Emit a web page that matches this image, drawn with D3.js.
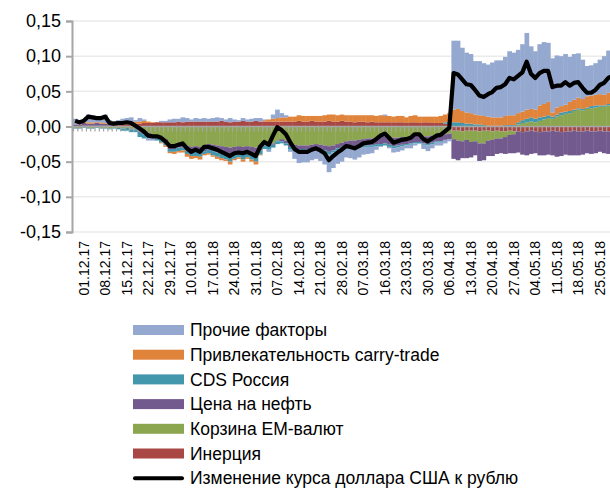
<!DOCTYPE html>
<html>
<head>
<meta charset="utf-8">
<script src="https://cdn.jsdelivr.net/npm/d3@7"></script>
<style>
  body { margin: 0; background: #fff; }
  text { font-family: "Liberation Sans", Arial, sans-serif; fill: #000; }
</style>
</head>
<body>
<div id="app"></div>
<script>
// Decomposition of USD/RUB change, business days 29.11.17 .. 31.05.18.

var tickLabels = ["01.12.17", "08.12.17", "15.12.17", "22.12.17", "29.12.17", "10.01.18", "17.01.18",
	"24.01.18", "31.01.18", "07.02.18", "14.02.18", "21.02.18", "28.02.18", "07.03.18", "16.03.18",
	"23.03.18", "30.03.18", "06.04.18", "13.04.18", "20.04.18", "27.04.18", "04.05.18", "11.05.18",
	"18.05.18", "25.05.18"];
var firstTick = 2, tickStep = 5;	// index of the first labelled day, and spacing

var inertia = [0.000,0.000,0.001,0.001,0.001,0.001,0.001,0.001,0.001,0.001,0.002,0.002,0.003,0.003,0.004,
	0.004,0.005,0.005,0.005,0.006,0.006,0.006,0.006,0.006,0.007,0.006,0.007,0.007,0.007,0.007,0.007,
	0.007,0.007,0.007,0.008,0.007,0.006,0.007,0.007,0.008,0.007,0.007,0.008,
	0.007,0.007,0.007,0.007,0.007,
	0.007,0.007,0.007,0.007,0.008,0.007,0.007,0.008,0.007,0.007,0.007,0.008,0.007,0.007,0.008,
	0.007,0.007,0.006,0.007,0.007,0.006,0.007,0.006,0.006,0.006,
	0.006,0.006,0.006,0.006,0.005,0.006,0.006,0.005,0.006,0.006,0.005,0.005,0.005,0.004,0.003,
	-0.006,-0.006,-0.007,-0.006,-0.006,-0.006,-0.007,-0.006,-0.006,-0.007,-0.006,-0.007,
	-0.007,-0.006,-0.007,-0.007,-0.008,-0.007,-0.006,-0.007,-0.008,-0.007,-0.007,-0.006,-0.007,-0.008,
	-0.007,-0.007,-0.006,-0.007,-0.007,-0.006,-0.007,-0.007,-0.006,-0.007,-0.007,-0.006,-0.007];

var emBasket = [-0.002,-0.002,-0.001,-0.002,-0.002,-0.001,-0.002,-0.002,-0.003,-0.002,-0.002,-0.003,-0.002,-0.003,-0.003,
	-0.007,-0.009,-0.009,-0.011,-0.013,-0.015,-0.018,-0.026,-0.026,-0.025,-0.024,-0.027,-0.029,-0.028,-0.029,-0.027,
	-0.025,-0.026,-0.027,-0.028,-0.029,-0.030,-0.029,-0.028,-0.029,-0.028,-0.029,-0.030,
	-0.026,-0.022,-0.024,-0.024,-0.020,
	-0.018,-0.020,-0.024,-0.026,-0.027,-0.027,-0.027,-0.026,-0.025,-0.026,-0.027,-0.028,-0.027,-0.025,-0.023,
	-0.021,-0.020,-0.020,-0.019,-0.018,-0.017,-0.017,-0.016,-0.015,-0.014,
	-0.015,-0.016,-0.016,-0.015,-0.015,-0.014,-0.013,-0.013,-0.014,-0.014,-0.013,-0.012,-0.012,-0.011,-0.010,
	-0.012,-0.014,-0.014,-0.013,-0.016,-0.015,-0.017,-0.018,-0.014,-0.012,-0.011,-0.010,
	-0.008,-0.006,-0.004,0.003,0.005,0.006,0.007,0.006,0.008,0.010,0.012,0.011,0.014,0.016,
	0.018,0.019,0.022,0.024,0.023,0.025,0.026,0.027,0.028,0.028,0.030,0.031,0.030];

var oil = [0.003,0.003,0.004,0.003,0.003,0.004,0.003,0.003,0.002,0.002,0.002,0.001,0.000,-0.001,-0.001,
	-0.002,-0.002,-0.003,-0.003,-0.004,-0.004,-0.005,-0.006,-0.006,-0.005,-0.006,-0.007,-0.008,-0.008,-0.009,-0.008,
	-0.008,-0.009,-0.010,-0.010,-0.011,-0.012,-0.011,-0.010,-0.011,-0.010,-0.011,-0.012,
	-0.008,-0.005,-0.004,-0.002,-0.001,
	-0.003,-0.004,-0.005,-0.006,-0.006,-0.005,-0.006,-0.005,-0.005,-0.006,-0.007,-0.008,-0.007,-0.006,-0.006,
	-0.006,-0.007,-0.008,-0.008,-0.009,-0.010,-0.010,-0.009,-0.010,-0.010,
	-0.011,-0.012,-0.011,-0.011,-0.010,-0.010,-0.009,-0.009,-0.010,-0.011,-0.010,-0.009,-0.009,-0.008,-0.008,
	-0.028,-0.028,-0.024,-0.026,-0.022,-0.020,-0.025,-0.024,-0.022,-0.023,-0.022,-0.021,
	-0.024,-0.026,-0.027,-0.030,-0.032,-0.034,-0.033,-0.031,-0.033,-0.034,-0.033,-0.035,-0.036,-0.034,
	-0.033,-0.034,-0.035,-0.034,-0.033,-0.032,-0.032,-0.031,-0.030,-0.031,-0.032,-0.032,-0.031];

var cds = [-0.001,-0.001,-0.001,-0.001,-0.001,-0.001,-0.001,-0.001,-0.001,-0.001,-0.002,-0.003,-0.004,-0.004,-0.004,
	-0.006,-0.006,-0.003,-0.003,-0.003,-0.004,-0.004,-0.004,-0.004,-0.005,-0.004,-0.005,-0.005,-0.006,-0.005,-0.004,
	-0.005,-0.006,-0.006,-0.007,-0.007,-0.008,-0.006,-0.006,-0.007,-0.006,-0.007,-0.008,
	-0.006,-0.005,-0.005,-0.004,-0.004,
	-0.003,-0.003,-0.004,-0.004,-0.003,-0.003,-0.004,-0.003,-0.003,-0.004,-0.004,-0.004,-0.003,-0.003,-0.003,
	-0.002,-0.002,-0.003,-0.003,-0.003,-0.002,-0.002,-0.003,-0.003,-0.003,
	-0.003,-0.003,-0.003,-0.002,-0.002,-0.002,-0.002,-0.002,-0.002,-0.002,-0.002,-0.002,-0.001,0.002,0.004,
	0.006,0.006,0.005,0.004,0.004,0.003,0.003,0.002,0.001,0.001,0.001,0.001,
	0.002,0.002,0.002,0.003,0.004,0.005,0.006,0.005,0.005,0.004,0.004,0.003,0.003,0.004,
	0.003,0.003,0.002,0.002,0.002,0.002,0.003,0.003,0.002,0.002,0.002,0.002,0.002];

var carry = [0.000,0.001,0.001,0.002,0.002,0.001,0.002,0.001,0.001,0.001,0.001,0.001,0.002,0.002,0.003,
	0.003,0.003,0.002,0.001,0.000,-0.001,-0.002,-0.002,-0.003,-0.002,-0.003,-0.004,-0.004,-0.003,-0.004,-0.002,
	-0.002,-0.002,-0.003,-0.003,-0.002,-0.004,-0.002,-0.002,-0.003,-0.002,-0.003,-0.004,
	-0.001,0.002,0.003,0.004,0.005,
	0.006,0.006,0.007,0.007,0.008,0.008,0.008,0.007,0.008,0.008,0.009,0.009,0.010,0.009,0.009,
	0.009,0.009,0.010,0.009,0.009,0.010,0.009,0.009,0.010,0.009,
	0.009,0.008,0.009,0.009,0.008,0.009,0.010,0.009,0.008,0.008,0.009,0.009,0.010,0.011,0.012,
	0.018,0.019,0.017,0.016,0.015,0.014,0.013,0.013,0.013,0.012,0.012,0.012,
	0.013,0.014,0.014,0.013,0.012,0.013,0.012,0.013,0.017,0.018,0.019,0.006,0.010,0.009,
	0.010,0.013,0.014,0.015,0.014,0.016,0.015,0.015,0.016,0.015,0.016,0.017,0.016];

var other = [0.008,0.005,0.004,0.011,0.010,0.008,0.009,0.012,0.005,0.003,0.004,0.007,0.007,0.008,0.002,
	0.005,0.002,-0.005,-0.003,0.000,0.002,0.002,0.004,0.005,0.004,0.007,0.005,0.003,0.005,0.004,0.005,
	0.004,0.005,0.006,0.004,0.003,0.006,0.003,0.002,0.004,0.003,0.004,0.004,
	0.005,0.001,-0.003,0.006,0.012,
	0.006,0.003,-0.003,-0.010,-0.016,-0.016,-0.014,-0.014,-0.013,-0.013,-0.016,-0.025,-0.022,-0.019,-0.018,
	-0.015,-0.016,-0.016,-0.014,-0.010,-0.010,-0.009,-0.005,-0.001,0.002,
	-0.002,-0.006,-0.006,-0.006,-0.004,-0.005,-0.003,-0.001,-0.006,-0.008,-0.006,-0.004,-0.005,-0.005,-0.003,
	0.098,0.097,0.090,0.085,0.084,0.076,0.077,0.075,0.074,0.078,0.081,0.081,
	0.084,0.091,0.089,0.090,0.096,0.109,0.089,0.083,0.087,0.088,0.084,0.077,0.074,0.071,
	0.072,0.064,0.065,0.063,0.056,0.043,0.043,0.045,0.049,0.055,0.060,0.060,0.060];

var usdRub = [0.008,0.006,0.008,0.014,0.013,0.012,0.012,0.014,0.005,0.004,0.005,0.005,0.006,0.005,0.001,
	-0.003,-0.007,-0.013,-0.014,-0.014,-0.016,-0.021,-0.028,-0.028,-0.026,-0.024,-0.031,-0.036,-0.033,-0.036,-0.029,
	-0.029,-0.031,-0.033,-0.036,-0.039,-0.042,-0.038,-0.037,-0.038,-0.036,-0.039,-0.042,
	-0.029,-0.022,-0.026,-0.013,-0.001,
	-0.005,-0.011,-0.022,-0.032,-0.036,-0.036,-0.036,-0.033,-0.031,-0.034,-0.038,-0.048,-0.042,-0.037,-0.033,
	-0.028,-0.029,-0.031,-0.028,-0.024,-0.023,-0.022,-0.018,-0.013,-0.010,
	-0.016,-0.023,-0.021,-0.019,-0.018,-0.016,-0.011,-0.011,-0.018,-0.021,-0.017,-0.013,-0.012,-0.007,-0.002,
	0.076,0.074,0.067,0.060,0.059,0.052,0.044,0.042,0.046,0.049,0.055,0.056,
	0.060,0.069,0.067,0.072,0.077,0.092,0.075,0.069,0.076,0.079,0.079,0.056,0.058,0.058,
	0.063,0.058,0.062,0.063,0.055,0.048,0.048,0.052,0.059,0.062,0.069,0.072,0.070];

var yTicks = [-0.15, -0.10, -0.05, 0, 0.05, 0.10, 0.15];

// Stack order from zero outward; legend lists them reversed.
var keys = ["inertia", "em", "oil", "cds", "carry", "other"];
var series = {inertia: inertia, em: emBasket, oil: oil, cds: cds, carry: carry, other: other};
var colors = {inertia: "#a94744", em: "#8ca650", oil: "#725a8e", cds: "#4297ad", carry: "#e0843c", other: "#94a8d0"};
var names = {inertia: "Инерция", em: "Корзина EM-валют", oil: "Цена на нефть", cds: "CDS Россия",
	carry: "Привлекательность carry-trade", other: "Прочие факторы"};

var width = 610, height = 489;
var N = usdRub.length;
var barW = 4.3;
var plotLeft = 72, plotTop = 21, plotBottom = 232;

var vis = d3.select("#app").append("svg")
	.attr("width", width).attr("height", height);

var x = d3.scaleBand().domain(d3.range(N)).range([plotLeft + 1, plotLeft + 1 + N * barW]).padding(0);
var y = d3.scaleLinear().domain([-0.15, 0.15]).range([plotBottom, plotTop]);
var bw = x.bandwidth();

// grid
vis.append("g").selectAll("line").data(yTicks.filter(function (d) {return d != 0;}))
	.enter().append("line")
	.attr("x1", plotLeft).attr("x2", width)
	.attr("y1", function (d) {return y(d);}).attr("y2", function (d) {return y(d);})
	.attr("stroke", "#ebebeb").attr("stroke-width", 1.5);

// stacked bars
var rows = d3.range(N).map(function (i) {
	var r = {};
	keys.forEach(function (k) {r[k] = series[k][i];});
	return r;
});
var stacked = d3.stack().keys(keys).offset(d3.stackOffsetDiverging)(rows);

var gBars = vis.append("g");
stacked.forEach(function (s) {
	gBars.append("g").attr("fill", colors[s.key])
		.selectAll("rect").data(s).enter().append("rect")
		.attr("x", function (d, i) {return x(i);})
		.attr("width", bw + 0.4)
		.attr("y", function (d) {return y(Math.max(d[0], d[1]));})
		.attr("height", function (d) {return Math.abs(y(d[0]) - y(d[1]));});
});

// category axis at zero, with a tick between every day
var y0 = y(0);
vis.append("line").attr("x1", plotLeft).attr("x2", width).attr("y1", y0).attr("y2", y0)
	.attr("stroke", "#a6a6a6").attr("stroke-width", 1.5);
vis.append("g").selectAll("line").data(d3.range(N))
	.enter().append("line")
	.attr("x1", function (i) {return x(i) + 0.5;}).attr("x2", function (i) {return x(i) + 0.5;})
	.attr("y1", y0).attr("y2", y0 + 5)
	.attr("stroke", "#a6a6a6").attr("stroke-width", 1.2);

// value axis
var yAxis = vis.append("g").attr("transform", "translate(" + plotLeft + ",0)")
	.call(d3.axisLeft(y).tickValues(yTicks).tickSize(6).tickPadding(5)
		.tickFormat(function (d) {return (d < 0 ? "-" : "") + Math.abs(d).toFixed(2).replace(".", ",");}));
yAxis.select(".domain").attr("stroke", "#a6a6a6").attr("stroke-width", 2);
yAxis.selectAll(".tick line").attr("stroke", "#a6a6a6").attr("stroke-width", 2);
yAxis.selectAll("text").style("font-size", "18px").attr("fill", "#000");

// day labels
var labelIdx = tickLabels.map(function (t, k) {return firstTick + k * tickStep;});
vis.append("g").selectAll("text").data(labelIdx)
	.enter().append("text")
	.attr("transform", function (i) {return "translate(" + (x(i) + bw / 2) + ",241) rotate(-90)";})
	.attr("dy", "0.36em")
	.attr("text-anchor", "end")
	.style("font-size", "14px")
	.text(function (i, k) {return tickLabels[k];});

// total change
var line = d3.line()
	.x(function (d, i) {return x(i) + bw / 2;})
	.y(function (d) {return y(d);});
vis.append("path").datum(usdRub)
	.attr("d", line)
	.attr("fill", "none").attr("stroke", "#000").attr("stroke-width", 4.2)
	.attr("stroke-linejoin", "round");

// legend
var legendKeys = keys.slice().reverse();
var lx = 133, ly = 330, lstep = 24.7;
var gLeg = vis.append("g");
legendKeys.forEach(function (k, j) {
	gLeg.append("rect").attr("x", lx).attr("y", ly + j * lstep - 5)
		.attr("width", 51).attr("height", 10).attr("fill", colors[k]);
	gLeg.append("text").attr("x", 190).attr("y", ly + j * lstep)
		.attr("dy", "0.35em").style("font-size", "17.5px").text(names[k]);
});
var jl = legendKeys.length;
gLeg.append("line").attr("x1", lx + 2).attr("x2", lx + 49)
	.attr("y1", ly + jl * lstep).attr("y2", ly + jl * lstep)
	.attr("stroke", "#000").attr("stroke-width", 4).attr("stroke-linecap", "round");
gLeg.append("text").attr("x", 190).attr("y", ly + jl * lstep)
	.attr("dy", "0.35em").style("font-size", "17.5px").text("Изменение курса доллара США к рублю");
</script>
</body>
</html>
